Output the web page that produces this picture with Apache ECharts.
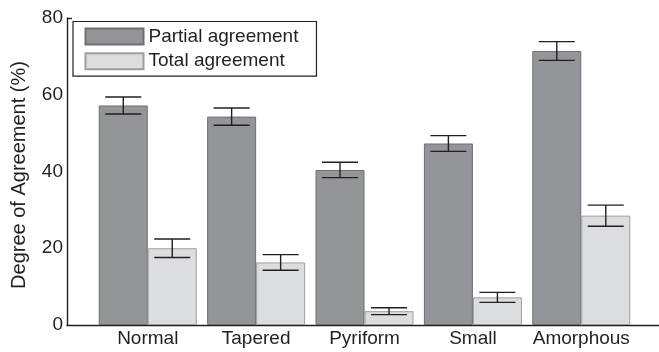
<!DOCTYPE html>
<html>
<head>
<meta charset="utf-8">
<style>
  html, body { margin: 0; padding: 0; background: #ffffff; }
  #chart { width: 659px; height: 352px; }
</style>
<script src="https://cdn.jsdelivr.net/npm/echarts@6/dist/echarts.min.js"></script>
</head>
<body>
<div id="chart"></div>
<script>
// Sperm head morphology classes
const categories = ['Normal', 'Tapered', 'Pyriform', 'Small', 'Amorphous'];

// Mean degree of agreement (%) and half-width of the error bar
const partialAgreement = [57.2, 54.3, 40.4, 47.3, 71.4];
const partialError = [2.2, 2.25, 2.0, 2.05, 2.45];
const totalAgreement = [20.0, 16.3, 3.6, 7.2, 28.5];
const totalError = [2.4, 2.05, 0.9, 1.3, 2.75];

const yTicks = [0, 20, 40, 60, 80];

const FONT = '"Liberation Sans", Arial, Helvetica, sans-serif';
const TEXT = '#231f20';
const BAR_W = 49;

const positions = categories.map((_, i) => i + 1);
const toPoints = vals => vals.map((v, i) => [positions[i], v]);

// Whisker with caps drawn through the axis scales
function errorBars(vals, errs, offset) {
  return {
    type: 'custom',
    silent: true,
    z: 5,
    data: vals.map((v, i) => [positions[i], v - errs[i], v + errs[i]]),
    renderItem: function (params, api) {
      const lo = api.coord([api.value(0), api.value(1)]);
      const hi = api.coord([api.value(0), api.value(2)]);
      const x = lo[0] + offset;
      const half = 18;
      const style = { stroke: TEXT, lineWidth: 1.4 };
      return {
        type: 'group',
        children: [
          { type: 'line', shape: { x1: x, y1: lo[1], x2: x, y2: hi[1] }, style: style },
          { type: 'line', shape: { x1: x - half, y1: lo[1], x2: x + half, y2: lo[1] }, style: style },
          { type: 'line', shape: { x1: x - half, y1: hi[1], x2: x + half, y2: hi[1] }, style: style }
        ]
      };
    }
  };
}

const chart = echarts.init(document.getElementById('chart'), null, { renderer: 'canvas' });

chart.setOption({
  animation: false,
  backgroundColor: '#ffffff',
  textStyle: { fontFamily: FONT },
  grid: { left: 67, right: 0, top: 18, bottom: 27, containLabel: false },
  legend: {
    orient: 'vertical',
    left: 73,
    top: 21.5,
    padding: [5.5, 18, 5.5, 11.5],
    borderColor: '#231f20',
    borderWidth: 1.2,
    backgroundColor: '#ffffff',
    itemWidth: 58,
    itemHeight: 16,
    itemGap: 5.7,
    icon: 'rect',
    data: ['Partial agreement', 'Total agreement'],
    textStyle: { fontSize: 19, color: TEXT, fontFamily: FONT, lineHeight: 16 }
  },
  xAxis: {
    type: 'value',
    min: 0.255,
    max: 5.717,
    splitLine: { show: false },
    axisLine: { show: true, onZero: false, lineStyle: { color: TEXT, width: 1.4 } },
    axisTick: { show: false },
    axisLabel: {
      customValues: positions,
      formatter: v => categories[Math.round(v) - 1] || '',
      fontSize: 19,
      color: TEXT,
      fontFamily: FONT,
      margin: 4
    }
  },
  yAxis: {
    type: 'value',
    min: 0,
    max: 80,
    interval: 20,
    name: 'Degree of Agreement (%)',
    nameLocation: 'middle',
    nameGap: 38,
    nameTextStyle: { fontSize: 20, color: TEXT, fontFamily: FONT, padding: [0, 7, 0, 0] },
    splitLine: { show: false },
    axisLine: { show: true, lineStyle: { color: TEXT, width: 1.4 } },
    axisTick: { show: true, inside: true, length: 5, customValues: [80], lineStyle: { color: TEXT, width: 1.4 } },
    axisLabel: {
      customValues: yTicks,
      fontSize: 19,
      color: TEXT,
      fontFamily: FONT,
      margin: 4
    }
  },
  series: [
    {
      name: 'Partial agreement',
      type: 'bar',
      barWidth: BAR_W,
      barGap: '0%',
      data: toPoints(partialAgreement),
      itemStyle: { color: '#939598', borderColor: '#6d6e71', borderWidth: 1 }
    },
    {
      name: 'Total agreement',
      type: 'bar',
      barWidth: BAR_W,
      barGap: '0%',
      data: toPoints(totalAgreement),
      itemStyle: { color: '#dcdddf', borderColor: '#9d9ea0', borderWidth: 1 }
    },
    errorBars(partialAgreement, partialError, -BAR_W / 2),
    errorBars(totalAgreement, totalError, BAR_W / 2)
  ]
});
</script>
</body>
</html>
